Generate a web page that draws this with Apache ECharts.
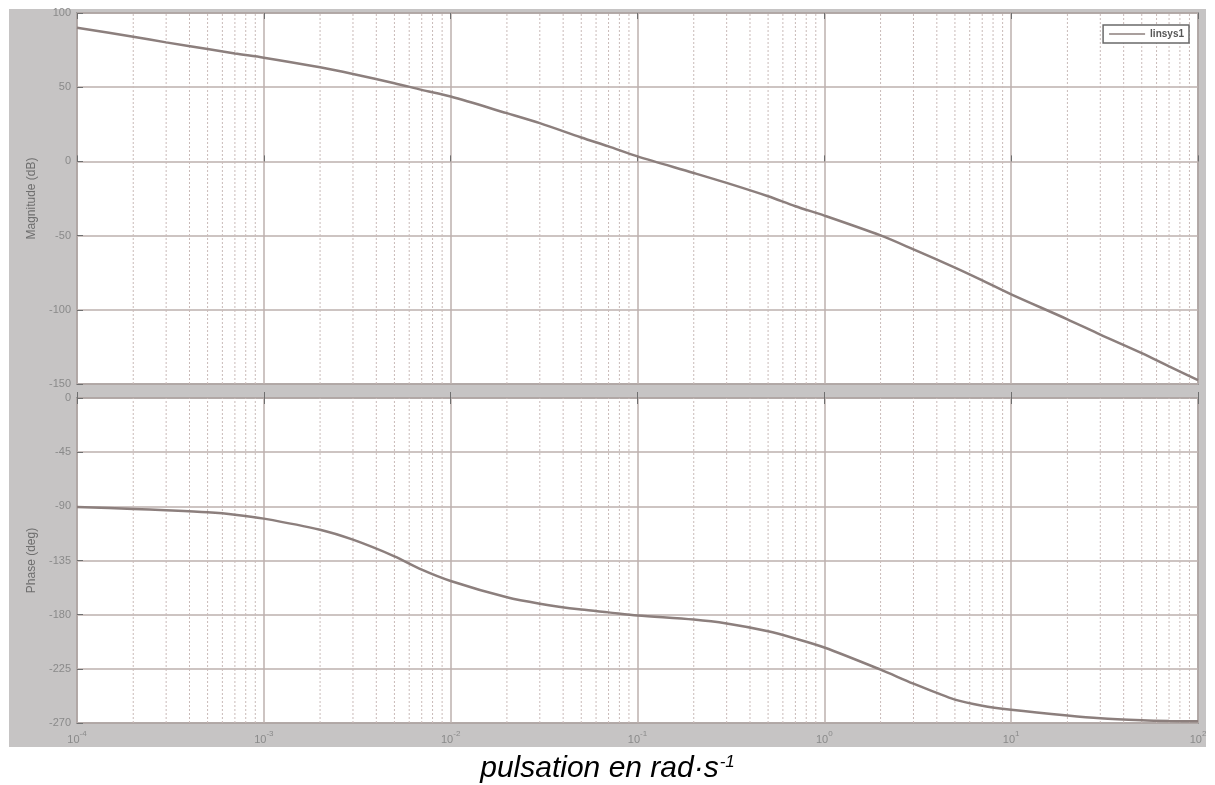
<!DOCTYPE html>
<html>
<head>
<meta charset="utf-8">
<script src="https://cdn.jsdelivr.net/npm/echarts@6/dist/echarts.min.js"></script>
<style>
html,body{margin:0;padding:0;background:#fff;}
#panel{position:absolute;left:9px;top:9px;width:1197px;height:738px;background:#c6c4c4;}
#chart{position:absolute;left:0;top:0;width:1215px;height:785px;}
</style>
</head>
<body>
<div id="panel"></div>
<div id="chart"></div>
<script>
// pulsation (rad/s)
const freqs = [1e-4,2e-4,3e-4,5e-4,7e-4,1e-3,2e-3,3e-3,5e-3,7e-3,1e-2,2e-2,3e-2,5e-2,7e-2,1e-1,2e-1,3e-1,5e-1,7e-1,1,2,3,5,7,10,20,30,50,70,100];
// magnitude (dB)
const magnitude = [90,84,80.2,75.7,72.7,69.9,63.4,58.9,52.7,48.2,43.7,32.5,25.8,16.1,10.1,3.4,-7.8,-14.5,-23.5,-30.2,-36.5,-49.9,-59.3,-71.6,-80.2,-89.6,-106.4,-116.7,-129.2,-138.2,-147.4];
// phase (deg)
const phase = [-90.5,-92.2,-93.3,-95,-96.9,-100.2,-109.4,-117.7,-131.5,-142.6,-152,-165.6,-170.9,-175.8,-178.1,-180.6,-184.1,-187.4,-193.8,-199.9,-207.3,-225.7,-237.3,-250.6,-255.6,-258.9,-263.8,-266.1,-267.7,-268.3,-268.6];
const magTicks = [-150,-100,-50,0,50,100];
const phaseTicks = [-270,-225,-180,-135,-90,-45,0];
const seriesName = 'linsys1';
const xTitle = 'pulsation en rad·s';

// minor grid positions (2..9 x 10^k)
const minorX = [];
for (let e = -4; e < 2; e++) for (let m = 2; m <= 9; m++) minorX.push(m * Math.pow(10, e));

const chart = echarts.init(document.getElementById('chart'), null, {renderer: 'canvas'});
const FONT = '"Liberation Sans", Arial, sans-serif';
const lineColor = '#8c7f7d';
const majorGrid = '#bcb0ae';
const minorGrid = '#c9bab8';

function xAxisCfg(gridIndex, showLabels, position) {
  return {
    type: 'log', logBase: 10, min: 1e-4, max: 100, gridIndex: gridIndex, position: position || 'bottom',
    axisLine: {show: false},
    axisTick: {show: true, inside: true, length: 6, lineStyle: {color: '#6f6f6f', width: 1}},
    splitLine: {show: position !== 'top', lineStyle: {color: majorGrid, width: 1.5}},
    axisLabel: {
      show: showLabels, margin: 7, color: '#8a8a8a', fontFamily: FONT,
      formatter: function (v) {
        const e = Math.round(Math.log10(v));
        return '{b|10}{s|' + e + '}';
      },
      rich: {
        b: {fontSize: 11, color: '#8a8a8a', fontFamily: FONT, verticalAlign: 'bottom', lineHeight: 15},
        s: {fontSize: 8, color: '#8a8a8a', fontFamily: FONT, verticalAlign: 'top', lineHeight: 15}
      }
    }
  };
}
function yAxisCfg(gridIndex, min, max, interval, name) {
  return {
    type: 'value', gridIndex: gridIndex, min: min, max: max, interval: interval,
    name: name, nameLocation: 'middle', nameGap: 34,
    nameTextStyle: {color: '#6e6e6e', fontSize: 12, fontFamily: FONT},
    axisLine: {show: false},
    axisTick: {show: true, inside: true, length: 6, lineStyle: {color: '#6f6f6f'}},
    splitLine: {show: true, lineStyle: {color: majorGrid, width: 1.5}},
    axisLabel: {color: '#8a8a8a', fontSize: 11, fontFamily: FONT, margin: 6}
  };
}

const magData = freqs.map((f, i) => [f, magnitude[i]]);
const phaseData = freqs.map((f, i) => [f, phase[i]]);

function minorSeries(xi, yi, lo, hi) {
  const d = [];
  minorX.forEach(v => { d.push([v, lo]); d.push([v, hi]); d.push([v, null]); });
  return {
    type: 'line', xAxisIndex: xi, yAxisIndex: yi, data: d, symbol: 'none', silent: true,
    connectNulls: false, smooth: false, z: 1,
    lineStyle: {color: minorGrid, type: [2, 2], width: 1}
  };
}

chart.setOption({
  animation: false,
  backgroundColor: 'transparent',
  grid: [
    {left: 77, right: 17, top: 13, height: 371, show: true, backgroundColor: '#ffffff', borderColor: '#777777', borderWidth: 1.5},
    {left: 77, right: 17, top: 398, height: 325, show: true, backgroundColor: '#ffffff', borderColor: '#777777', borderWidth: 1.5}
  ],
  xAxis: [xAxisCfg(0, false), xAxisCfg(1, true), xAxisCfg(0, false, 'top'), xAxisCfg(1, false, 'top')],
  yAxis: [yAxisCfg(0, magTicks[0], magTicks[magTicks.length - 1], 50, 'Magnitude (dB)'),
          yAxisCfg(1, phaseTicks[0], phaseTicks[phaseTicks.length - 1], 45, 'Phase (deg)')],
  legend: {
    show: true, data: [{name: seriesName, icon: 'rect'}], right: 26, top: 25,
    backgroundColor: '#ffffff', borderColor: '#6a6a6a', borderWidth: 1.5,
    padding: [4, 5, 4, 6], itemWidth: 36, itemHeight: 1.5, itemGap: 4,
    textStyle: {fontSize: 10, fontWeight: 'bold', color: '#555', fontFamily: FONT}
  },
  series: [
    minorSeries(0, 0, -150, 100),
    minorSeries(1, 1, -270, 0),
    {
      name: seriesName, type: 'line', xAxisIndex: 0, yAxisIndex: 0, data: magData,
      smooth: 0.3, symbol: 'none', lineStyle: {color: lineColor, width: 2.5}, itemStyle: {color: lineColor}, z: 5
    },
    {
      name: 'phase', type: 'line', xAxisIndex: 1, yAxisIndex: 1, data: phaseData,
      smooth: 0.3, symbol: 'none', lineStyle: {color: lineColor, width: 2.5}, itemStyle: {color: lineColor}, z: 5
    }
  ],
  graphic: [
    {
      type: 'text', left: 'center', top: 748,
      style: {
        text: '{m|' + xTitle + '}{s|-1}',
        rich: {
          m: {fontSize: 30, fontStyle: 'italic', fontFamily: FONT, fill: '#000', lineHeight: 36, verticalAlign: 'bottom'},
          s: {fontSize: 17, fontStyle: 'italic', fontFamily: FONT, fill: '#000', lineHeight: 30, verticalAlign: 'top', padding: [6, 0, 0, 1]}
        }
      }
    }
  ]
});
</script>
</body>
</html>
